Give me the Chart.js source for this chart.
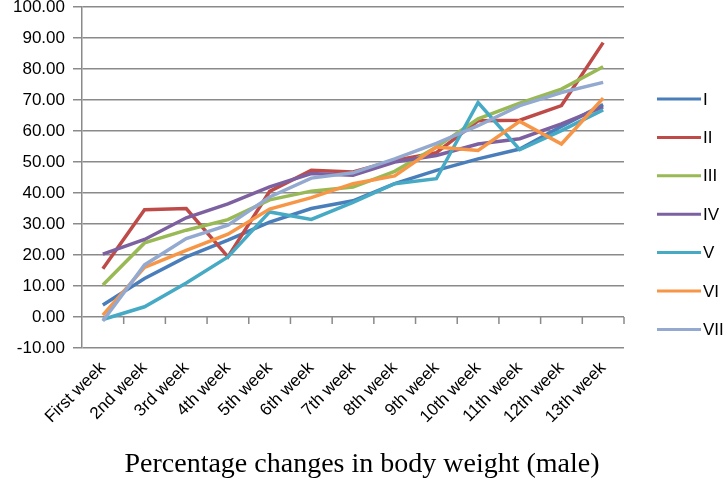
<!DOCTYPE html>
<html>
<head>
<meta charset="utf-8">
<script src="https://cdn.jsdelivr.net/npm/chart.js@4.4.0/dist/chart.umd.min.js"></script>
<style>
  html, body { margin: 0; padding: 0; background: #fff; }
  #wrap { width: 725px; height: 487px; }
</style>
</head>
<body>
<div id="wrap"><canvas id="weightChart"></canvas></div>
<script>
const weeks = ["First week", "2nd week", "3rd week", "4th week", "5th week", "6th week", "7th week",
  "8th week", "9th week", "10th week", "11th week", "12th week", "13th week"];
const groupNames = ["I", "II", "III", "IV", "V", "VI", "VII"];

const groupI = [3.9, 12.4, 19.4, 24.8, 30.6, 35.0, 37.5, 43.0, 47.3, 51.0, 54.2, 61.5, 68.5];
const groupII = [15.6, 34.6, 35.0, 19.4, 40.5, 47.3, 46.8, 50.5, 53.0, 63.3, 63.5, 68.2, 88.5];
const groupIII = [10.3, 23.9, 28.0, 31.4, 37.8, 40.6, 41.9, 47.0, 54.8, 63.9, 69.0, 73.5, 80.7];
const groupIV = [20.3, 25.0, 32.0, 36.5, 42.0, 46.3, 45.7, 50.0, 52.1, 55.8, 57.5, 62.3, 67.8];
const groupV = [-0.8, 3.3, 11.0, 19.4, 33.9, 31.5, 37.0, 43.0, 44.6, 69.2, 54.0, 60.1, 66.8];
const groupVI = [0.6, 16.0, 21.5, 26.7, 34.8, 38.5, 43.0, 45.5, 54.8, 53.7, 63.1, 55.8, 70.6];
const groupVII = [-1.3, 16.8, 25.3, 29.6, 38.7, 44.8, 46.5, 51.0, 56.0, 61.7, 68.2, 72.4, 75.7];

const yMin = -10;
const yMax = 100;
const yStep = 10;
const chartTitle = "Percentage changes in body weight (male)";

const seriesColors = ["#4A7EBB", "#BE4B48", "#98B954", "#7D60A0", "#46AAC5", "#F79646", "#93A9D0"];
const gridColor = "#8a8a8a";
const allSeries = [groupI, groupII, groupIII, groupIV, groupV, groupVI, groupVII];

// small tick marks hanging from the zero line (axis crosses at 0 in the original)
const zeroLineTicks = {
  id: "zeroLineTicks",
  beforeDatasetsDraw(chart) {
    const xs = chart.scales.x;
    const y0 = chart.scales.y.getPixelForValue(0);
    const ctx = chart.ctx;
    ctx.save();
    ctx.strokeStyle = gridColor;
    ctx.lineWidth = 1.5;
    ctx.beginPath();
    for (let i = 1; i <= weeks.length; i++) {
      const px = i === weeks.length
        ? chart.chartArea.right
        : (xs.getPixelForTick(i - 1) + xs.getPixelForTick(i)) / 2;
      ctx.moveTo(px, y0);
      ctx.lineTo(px, y0 + 7);
    }
    ctx.stroke();
    ctx.restore();
  }
};

// legend on the right and the caption underneath, drawn by hand to match spacing
const sideLegend = {
  id: "sideLegend",
  afterDraw(chart) {
    const ctx = chart.ctx;
    const left = chart.chartArea.right + 33;
    const top = chart.chartArea.top + 92;
    const step = 38.4;
    ctx.save();
    ctx.font = "17px 'Liberation Sans', Arial, sans-serif";
    ctx.textBaseline = "middle";
    ctx.fillStyle = "#000";
    chart.data.datasets.forEach((ds, i) => {
      const y = top + i * step;
      ctx.strokeStyle = ds.borderColor;
      ctx.lineWidth = 3;
      ctx.beginPath();
      ctx.moveTo(left, y);
      ctx.lineTo(left + 44, y);
      ctx.stroke();
      ctx.fillText(ds.label, left + 46, y + 1);
    });

    ctx.font = "28px 'Liberation Serif', 'Times New Roman', serif";
    ctx.textAlign = "center";
    ctx.fillText(chartTitle, 362, chart.height - 22);
    ctx.restore();
  }
};

const ctx = document.getElementById("weightChart");
const weightChart = new Chart(ctx, {
  type: "line",
  data: {
    labels: weeks,
    datasets: allSeries.map((values, i) => ({
      label: groupNames[i],
      data: values,
      borderColor: seriesColors[i],
      backgroundColor: seriesColors[i],
      borderWidth: 3.5,
      pointRadius: 0,
      tension: 0,
      order: allSeries.length - i
    }))
  },
  options: {
    responsive: true,
    maintainAspectRatio: false,
    animation: false,
    layout: { padding: { top: 0, right: 101, left: 0, bottom: 49 } },
    plugins: {
      legend: { display: false },
      tooltip: { enabled: false }
    },
    scales: {
      x: {
        offset: true,
        grid: { display: false },
        border: { display: false },
        ticks: {
          color: "#000",
          font: { family: "'Liberation Sans', Arial, sans-serif", size: 17 },
          maxRotation: 45,
          minRotation: 45,
          autoSkip: false,
          padding: 2
        },
        afterFit(scale) { scale.height = 90; }
      },
      y: {
        min: yMin,
        max: yMax,
        ticks: {
          stepSize: yStep,
          color: "#000",
          font: { family: "'Liberation Sans', Arial, sans-serif", size: 17 },
          padding: 8,
          callback: (v) => Number(v).toFixed(2)
        },
        grid: { color: gridColor, lineWidth: 1.5, tickLength: 9 },
        border: { color: gridColor, width: 1.5 },
        afterFit(scale) {
          scale.width = 82;
          scale.paddingTop = 7;
          scale.paddingBottom = 0;
        }
      }
    }
  },
  plugins: [zeroLineTicks, sideLegend]
});
</script>
</body>
</html>
